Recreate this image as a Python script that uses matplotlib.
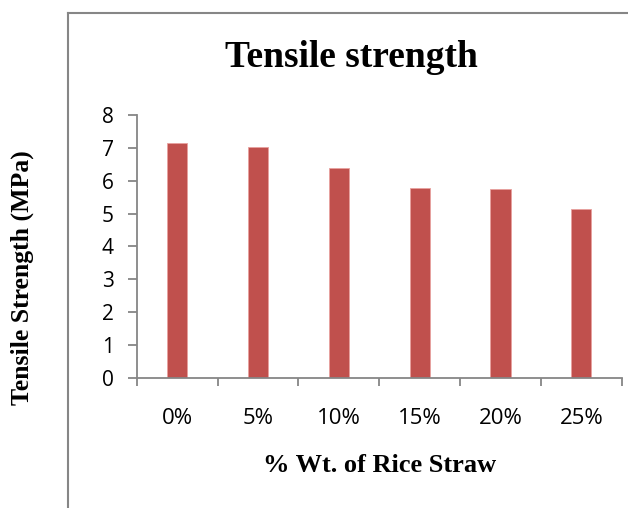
import matplotlib
matplotlib.use("Agg")
import matplotlib.pyplot as plt
from matplotlib.lines import Line2D

# Data
categories = ["0%", "5%", "10%", "15%", "20%", "25%"]
tensile_mpa = [7.16, 7.02, 6.39, 5.79, 5.75, 5.13]
y_ticks = [0, 1, 2, 3, 4, 5, 6, 7, 8]

bar_color = "#C0504D"
axis_gray = "#868686"
serif = ["Liberation Serif", "DejaVu Serif"]
sans = ["Open Sans", "DejaVu Sans"]

W, H = 628, 508
fig = plt.figure(figsize=(W / 100, H / 100), dpi=100)

# plot area in pixel coordinates
x0, x1 = 136.7, 621.7
y_top, y_zero = 115.0, 377.7
ax = fig.add_axes([x0 / W, (H - y_zero) / H, (x1 - x0) / W, (y_zero - y_top) / H])

xs = list(range(len(categories)))
ax.bar(xs, tensile_mpa, width=0.25, color=bar_color, edgecolor="#E8A09E", linewidth=0.6)

ax.set_xlim(-0.5, len(categories) - 0.5)
ax.set_ylim(0, 8)
ax.set_yticks(y_ticks)
ax.set_xticks(xs)
ax.set_xticklabels(categories)
ax.set_xticks([i - 0.5 for i in range(len(categories) + 1)], minor=True)

for side in ("top", "right"):
    ax.spines[side].set_visible(False)
for side in ("left", "bottom"):
    ax.spines[side].set_color(axis_gray)
    ax.spines[side].set_linewidth(1.3)

ax.tick_params(axis="y", direction="out", length=6.5, width=1.3, color=axis_gray,
               pad=10, labelsize=15)
ax.tick_params(axis="x", which="major", length=0, pad=22, labelsize=16)
ax.tick_params(axis="x", which="minor", direction="out", length=6, width=1.3, color=axis_gray)
for lab in ax.get_xticklabels() + ax.get_yticklabels():
    lab.set_family(sans)

# titles and axis labels
fig.text(351 / W, 1 - 66.7 / H, "Tensile strength", family=serif, weight="bold",
         fontsize=27, ha="center", va="baseline")
fig.text(380 / W, 1 - 472 / H, "% Wt. of Rice Straw", family=serif, weight="bold",
         fontsize=19, ha="center", va="baseline")
fig.text(22 / W, 1 - 278 / H, "Tensile Strength (MPa)", family=serif, weight="bold",
         fontsize=18.5, ha="center", va="center", rotation=90)

# chart-area frame (only left and top edges visible in the crop)
fig.add_artist(Line2D([68 / W, 68 / W], [0, 1 - 13 / H], color=axis_gray, lw=1.5))
fig.add_artist(Line2D([68 / W, 1], [1 - 13 / H, 1 - 13 / H], color=axis_gray, lw=1.5))

fig.savefig("out.png", dpi=100)
